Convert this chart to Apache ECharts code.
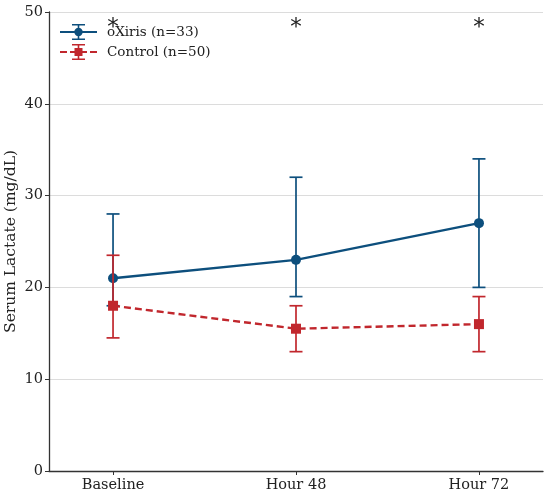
<!DOCTYPE html>
<html>
<head>
<meta charset="utf-8">
<script src="https://cdn.jsdelivr.net/npm/echarts@6/dist/echarts.min.js"></script>
<style>
html,body{margin:0;padding:0;background:#fff;}
#chart{width:550px;height:498px;}
</style>
</head>
<body>
<div id="chart"></div>
<script>
// categories and values
var categories = ['Baseline', 'Hour 48', 'Hour 72'];
var oxirisMean = [21, 23, 27];
var oxirisLow = [18, 19, 20];
var oxirisHigh = [28, 32, 34];
var controlMean = [18, 15.5, 16];
var controlLow = [14.5, 13, 13];
var controlHigh = [23.5, 18, 19];
var starY = [48.3, 48.3, 48.3];
var yTicks = [0, 10, 20, 30, 40, 50];

var BLUE = '#0d4f7d';
var RED = '#c1272d';
var FONT = 'DejaVu Serif';

function pts(vals) {
	var out = [];
	for (var i = 0; i < vals.length; i++) out.push([i, vals[i]]);
	return out;
}
function errData(lo, hi) {
	var out = [];
	for (var i = 0; i < lo.length; i++) out.push([i, lo[i], hi[i]]);
	return out;
}
function errBar(color) {
	return function (params, api) {
		var x = api.value(0);
		var lo = api.coord([x, api.value(1)]);
		var hi = api.coord([x, api.value(2)]);
		var hw = 6.5;
		var st = {stroke: color, lineWidth: 1.7};
		return {
			type: 'group',
			children: [
				{type: 'line', shape: {x1: lo[0], y1: lo[1], x2: hi[0], y2: hi[1]}, style: st},
				{type: 'line', shape: {x1: lo[0] - hw, y1: lo[1], x2: lo[0] + hw, y2: lo[1]}, style: st},
				{type: 'line', shape: {x1: hi[0] - hw, y1: hi[1], x2: hi[0] + hw, y2: hi[1]}, style: st}
			]
		};
	};
}

// legend icons: line + errorbar + marker
var iconBlue = 'path://M0 7.1H37V8.9H0Z M17.7 0H19.3V16H17.7Z M12 0H25V1.5H12Z M12 14.5H25V16H12Z M14.3 8A4.2 4.2 0 1 1 22.7 8A4.2 4.2 0 1 1 14.3 8Z';
var iconRed = 'path://M0 7.1H7V8.9H0Z M10 7.1H16V8.9H10Z M21 7.1H27V8.9H21Z M30 7.1H37V8.9H30Z M17.7 0H19.3V16H17.7Z M12 0H25V1.5H12Z M12 14.5H25V16H12Z M14.5 4H22.5V12H14.5Z';

var myChart = echarts.init(document.getElementById('chart'));
var option = {
	animation: false,
	backgroundColor: '#fff',
	textStyle: {fontFamily: FONT},
	grid: {left: 49, right: 7, top: 12, bottom: 27, containLabel: false, outerBoundsMode: 'none'},
	legend: {
		left: 55,
		top: 19,
		orient: 'vertical',
		itemWidth: 37,
		itemHeight: 16,
		itemGap: 4,
		textStyle: {fontFamily: FONT, fontSize: 13.5, color: '#222', padding: [0, 0, 0, 5]},
		data: [
			{name: 'oXiris (n=33)', icon: iconBlue, itemStyle: {color: BLUE}},
			{name: 'Control (n=50)', icon: iconRed, itemStyle: {color: RED}}
		]
	},
	xAxis: {
		type: 'value',
		min: -0.35,
		max: 2.35,
		splitLine: {show: false},
		axisLine: {onZero: false, lineStyle: {color: '#333', width: 1.3}},
		axisTick: {show: true, customValues: [0, 1, 2], length: 4, lineStyle: {color: '#333'}},
		axisLabel: {
			customValues: [0, 1, 2],
			fontFamily: FONT, fontSize: 14.5, color: '#222', margin: 7,
			formatter: function (v) { return categories[Math.round(v)]; }
		}
	},
	yAxis: {
		type: 'value',
		min: 0,
		max: 50,
		interval: 10,
		name: 'Serum Lactate (mg/dL)',
		nameLocation: 'middle',
		nameGap: 30,
		nameMoveOverlap: false,
		nameTextStyle: {fontFamily: FONT, fontSize: 15.5, color: '#222'},
		axisLine: {show: true, onZero: false, lineStyle: {color: '#333', width: 1.3}},
		axisTick: {show: true, length: 4, lineStyle: {color: '#333'}},
		axisLabel: {
			fontFamily: FONT, fontSize: 14.5, color: '#222', margin: 6,
			customValues: yTicks
		},
		splitLine: {show: true, lineStyle: {color: '#dcdcdc', width: 1}}
	},
	series: [
		{
			name: 'oXiris err',
			type: 'custom',
			renderItem: errBar(BLUE),
			data: errData(oxirisLow, oxirisHigh),
			z: 2
		},
		{
			name: 'oXiris (n=33)',
			type: 'line',
			data: pts(oxirisMean),
			symbol: 'circle',
			symbolSize: 10,
			itemStyle: {color: BLUE},
			lineStyle: {color: BLUE, width: 2.4},
			z: 3
		},
		{
			name: 'Control err',
			type: 'custom',
			renderItem: errBar(RED),
			data: errData(controlLow, controlHigh),
			z: 4
		},
		{
			name: 'Control (n=50)',
			type: 'line',
			data: pts(controlMean),
			symbol: 'rect',
			symbolSize: 10,
			itemStyle: {color: RED},
			lineStyle: {color: RED, width: 2.4, type: [7, 4]},
			z: 5
		},
		{
			name: 'stars',
			type: 'custom',
			data: pts(starY),
			renderItem: function (params, api) {
				var p = api.coord([api.value(0), api.value(1)]);
				return {
					type: 'text',
					x: p[0],
					y: p[1],
					style: {text: '*', fontFamily: 'DejaVu Sans', fontSize: 23, fill: '#222', align: 'center', verticalAlign: 'middle'}
				};
			},
			z: 6
		}
	]
};
myChart.setOption(option);
</script>
</body>
</html>
